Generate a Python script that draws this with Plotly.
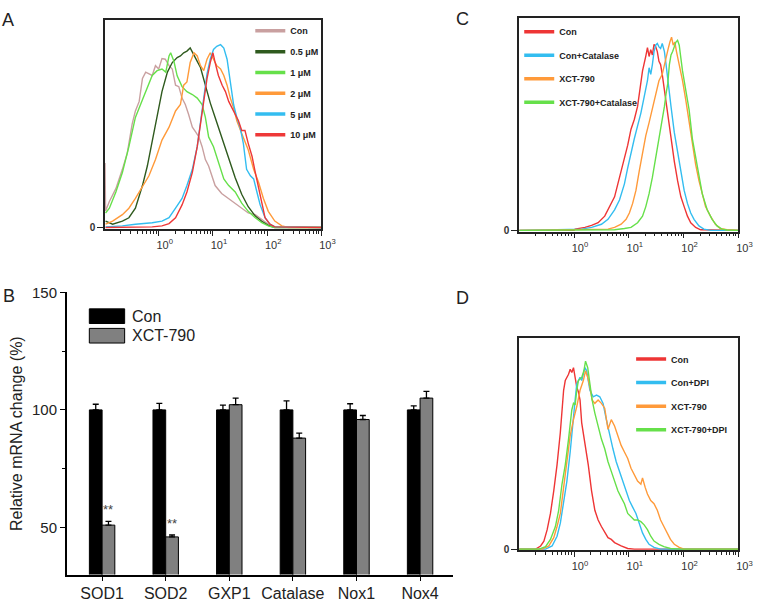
import numpy as np
import plotly.graph_objects as go

W, H = 758, 602

# ---------------- Panel A: DCF fluorescence histograms (log10 intensity, % of scale) -------------
a_con_logx = [-0.99, -0.98, -0.91, -0.79, -0.67, -0.58, -0.49, -0.43, -0.36, -0.30, -0.24, -0.18, -0.12, -0.06, 0.00,
              0.06, 0.12, 0.19, 0.25, 0.31, 0.37, 0.43, 0.49, 0.55, 0.62, 0.68, 0.74, 0.80, 0.86, 0.92, 0.98, 1.04,
              1.16, 1.29, 1.41, 1.53, 1.65, 1.78, 1.90, 2.02, 2.14, 3.0]
a_con_y = [31, 8, 12.5, 18.7, 28.0, 35.8, 49.8, 56.1, 60.7, 71.7, 74.8, 74.0, 73.2, 77.9, 76.3,
           81.3, 81.0, 77.9, 76.3, 68.5, 67.8, 62.3, 59.2, 54.5, 48.3, 46.0, 43.6, 38.9, 32.7, 29.6, 24.9, 20.2,
           16.4, 14.0, 11.7, 9.3, 7.0, 6.2, 3.9, 1.6, 0.3, 0]

a_05_logx = [-0.98, -0.85, -0.67, -0.55, -0.43, -0.30, -0.21, -0.12, -0.03, 0.06, 0.16, 0.25, 0.34, 0.40, 0.46,
             0.52, 0.58, 0.65, 0.71, 0.77, 0.83, 0.89, 0.95, 1.04, 1.14, 1.23, 1.32, 1.41, 1.53, 1.65, 1.78, 1.90,
             2.02, 2.14, 3.0]
a_05_y = [3.1, 1.6, 3.1, 4.7, 9.3, 20.2, 29.6, 42.1, 53.0, 65.4, 74.8, 79.4, 81.8, 82.6, 84.1,
          84.9, 86.4, 82.6, 80.0, 77.0, 71.0, 66.0, 60.0, 53.0, 45.0, 38.0, 31.0, 24.0, 16.0, 10.0, 5.5, 3.0,
          1.0, 0, 0]

a_1_logx = [-0.98, -0.91, -0.79, -0.67, -0.55, -0.43, -0.30, -0.21, -0.12, -0.03, 0.06, 0.13, 0.19, 0.22, 0.28,
            0.34, 0.43, 0.52, 0.62, 0.71, 0.80, 0.86, 0.92, 1.01, 1.10, 1.20, 1.29, 1.41, 1.53, 1.65, 1.78, 1.90,
            2.02, 2.14, 3.0]
a_1_y = [7.0, 9.3, 17.1, 26.5, 38.9, 53.0, 61.5, 67.0, 73.2, 75.5, 76.3, 74.8, 82.6, 84.1, 80.0,
         73.0, 67.8, 65.4, 64.0, 62.3, 59.2, 53.0, 43.6, 38.9, 31.2, 23.4, 20.2, 17.1, 11.7, 7.8, 4.7, 2.3,
         0.8, 0, 0]

a_2_logx = [-0.98, -0.85, -0.67, -0.55, -0.43, -0.30, -0.18, -0.06, 0.06, 0.19, 0.31, 0.40, 0.46, 0.52, 0.58,
            0.65, 0.71, 0.77, 0.83, 0.89, 0.95, 1.01, 1.07, 1.14, 1.20, 1.26, 1.32, 1.38, 1.44, 1.53, 1.65, 1.75,
            1.84, 1.93, 2.02, 2.14, 2.27, 2.39, 3.0]
a_2_y = [1.6, 3.1, 6.2, 9.3, 14.0, 19.5, 24.9, 32.7, 42.1, 48.3, 56.1, 59.2, 68.5, 70.1, 79.4,
         84.1, 82.6, 77.9, 75.5, 81.0, 84.1, 81.0, 77.9, 76.3, 73.2, 68.5, 62.3, 57.6, 51.4, 45.2, 37.4, 28.0,
         21.8, 14.0, 7.8, 3.1, 0.8, 0, 0]

a_5_logx = [-0.98, -0.67, -0.43, -0.12, 0.06, 0.19, 0.31, 0.43, 0.52, 0.62, 0.71, 0.77, 0.83, 0.89, 0.95,
            1.01, 1.07, 1.14, 1.20, 1.26, 1.32, 1.38, 1.44, 1.50, 1.56, 1.62, 1.69, 1.75, 1.81, 1.87, 1.96, 2.05,
            2.14, 3.0]
a_5_y = [0.3, 0.8, 1.6, 2.3, 3.1, 4.7, 9.3, 14.0, 20.2, 28.0, 38.9, 49.8, 62.3, 74.0, 81.0,
         85.7, 87.2, 88.0, 86.4, 81.0, 70.1, 59.2, 53.0, 48.3, 40.5, 28.0, 24.9, 23.4, 17.1, 10.9, 4.7, 1.6,
         0.3, 0]

a_10_logx = [-0.98, -0.12, 0.06, 0.19, 0.31, 0.43, 0.52, 0.62, 0.71, 0.77, 0.83, 0.89, 0.95, 1.00, 1.04,
             1.10, 1.17, 1.23, 1.29, 1.35, 1.41, 1.47, 1.53, 1.59, 1.65, 1.72, 1.78, 1.84, 1.90, 1.96, 2.05, 2.14,
             3.0]
a_10_y = [0, 0.3, 0.8, 1.9, 4.7, 10.9, 17.1, 26.5, 38.9, 49.8, 60.7, 71.7, 79.4, 84.1, 79.4,
          73.2, 68.5, 65.4, 60.7, 57.6, 54.5, 51.4, 46.7, 46.7, 40.5, 34.3, 26.5, 18.7, 10.9, 4.7, 1.6, 0.3,
          0]

a_names = ["Con", "0.5 μM", "1 μM", "2 μM", "5 μM", "10 μM"]

# ---------------- Panel C: catalase ----------------
c_con_logx = [-1.0, 0.0, 0.02, 0.20, 0.32, 0.44, 0.56, 0.65, 0.74, 0.80, 0.86, 0.92, 0.98, 1.04, 1.10, 1.16,
              1.22, 1.25, 1.31, 1.34, 1.37, 1.40, 1.43, 1.46, 1.49, 1.52, 1.55, 1.58, 1.61, 1.65, 1.68, 1.71,
              1.77, 1.83, 1.89, 1.95, 2.01, 2.07, 2.13, 2.22, 2.31, 3.0]
c_con_y = [0, 0, 0.6, 1.4, 2.4, 3.6, 6.7, 11.2, 15.8, 21.9, 27.9, 34.0, 40.1, 47.6, 52.2, 58.3,
           70.4, 75.0, 82.0, 86.0, 81.8, 85.0, 82.5, 87.5, 86.5, 84.1, 79.5, 78.0, 73.4, 65.9, 61.3, 55.2,
           43.1, 32.5, 23.4, 15.8, 11.2, 6.7, 3.6, 1.4, 0.3, 0]

c_cat_logx = [-1.0, 0.14, 0.32, 0.50, 0.62, 0.74, 0.83, 0.92, 0.98, 1.04, 1.10, 1.16, 1.22, 1.28, 1.34, 1.37,
              1.40, 1.43, 1.46, 1.49, 1.52, 1.55, 1.58, 1.61, 1.65, 1.68, 1.71, 1.77, 1.83, 1.89, 1.95, 2.01,
              2.07, 2.13, 2.19, 2.28, 2.37, 2.5, 3.0]
c_cat_y = [0, 0.6, 1.4, 2.9, 5.2, 9.7, 14.3, 21.9, 29.4, 37.0, 43.1, 49.2, 55.2, 62.8, 70.4, 76.5,
           73.4, 78.0, 84.1, 87.1, 87.9, 86.3, 85.6, 87.9, 84.1, 78.0, 70.4, 58.3, 46.1, 37.0, 26.4, 18.8,
           12.7, 8.2, 5.2, 2.1, 0.6, 0, 0]

c_xct_logx = [-1.0, 0.62, 0.74, 0.86, 0.95, 1.01, 1.07, 1.13, 1.19, 1.25, 1.31, 1.37, 1.43, 1.49, 1.55, 1.61,
              1.67, 1.72, 1.75, 1.78, 1.81, 1.84, 1.87, 1.92, 1.98, 2.04, 2.10, 2.16, 2.22, 2.28, 2.34, 2.40,
              2.49, 2.58, 2.67, 2.79, 3.0]
c_xct_y = [0, 0.6, 1.4, 2.9, 5.2, 8.2, 12.7, 18.8, 27.9, 37.0, 44.6, 50.7, 56.8, 64.3, 70.4, 73.4,
           81.0, 85.6, 88.6, 90.9, 87.1, 88.6, 84.1, 78.0, 70.4, 61.3, 50.7, 40.1, 31.0, 23.4, 17.3, 11.2,
           6.7, 2.9, 0.9, 0.3, 0]

c_xcat_logx = [-1.0, 0.74, 0.92, 1.04, 1.16, 1.25, 1.31, 1.37, 1.43, 1.49, 1.55, 1.61, 1.65, 1.68, 1.71, 1.74,
               1.77, 1.80, 1.83, 1.86, 1.89, 1.92, 1.95, 1.98, 2.04, 2.10, 2.16, 2.22, 2.28, 2.34, 2.43, 2.52,
               2.61, 2.70, 2.79, 3.0]
c_xcat_y = [0, 0.3, 0.9, 1.4, 3.6, 6.7, 11.2, 17.3, 24.9, 34.0, 41.6, 50.7, 58.3, 64.3, 68.9, 78.0,
            82.5, 84.1, 86.3, 88.6, 89.4, 87.1, 81.0, 75.0, 65.9, 56.8, 43.1, 34.0, 24.9, 17.3, 9.7, 5.2,
            2.1, 0.6, 0.2, 0]

c_names = ["Con", "Con+Catalase", "XCT-790", "XCT-790+Catalase"]

# ---------------- Panel D: DPI ----------------
d_con_logx = [-1.0, -0.70, -0.61, -0.55, -0.49, -0.43, -0.37, -0.31, -0.25, -0.22, -0.19, -0.16, -0.10, -0.07,
              -0.04, -0.01, 0.02, 0.05, 0.08, 0.11, 0.14, 0.17, 0.20, 0.23, 0.26, 0.29, 0.32, 0.38, 0.44, 0.50,
              0.56, 0.62, 0.68, 0.74, 0.86, 0.98, 1.10, 3.0]
d_con_y = [0, 0, 1.5, 3.8, 9.2, 16.9, 27.6, 39.9, 55.2, 66.0, 75.2, 79.8, 82.8, 85.1,
           83.6, 85.9, 81.3, 76.7, 74.4, 70.6, 59.8, 55.2, 50.6, 46.0, 39.9, 33.7, 27.6, 18.4, 13.8, 10.7,
           7.7, 5.4, 4.6, 3.1, 1.5, 0.3, 0, 0]

d_dpi_logx = [-1.0, -0.52, -0.40, -0.31, -0.25, -0.19, -0.13, -0.07, -0.04, -0.01, 0.02, 0.05, 0.11, 0.14,
              0.17, 0.20, 0.23, 0.26, 0.29, 0.35, 0.41, 0.47, 0.53, 0.59, 0.65, 0.71, 0.77, 0.83, 0.89, 0.95,
              1.01, 1.07, 1.13, 1.19, 1.25, 1.31, 1.37, 1.46, 1.58, 3.0]
d_dpi_y = [0, 0, 1.5, 6.1, 12.3, 21.5, 32.2, 46.0, 55.2, 62.9, 70.6, 78.2, 81.3, 79.8,
           82.8, 85.9, 84.4, 79.8, 75.2, 72.1, 72.9, 72.1, 69.0, 61.3, 53.7, 47.5, 41.4, 36.8, 32.2, 27.6,
           23.0, 19.9, 16.9, 12.3, 7.7, 4.6, 2.3, 0.8, 0, 0]

d_xct_logx = [-1.0, -0.58, -0.46, -0.37, -0.31, -0.25, -0.19, -0.13, -0.07, -0.01, 0.05, 0.11, 0.17, 0.21,
              0.25, 0.29, 0.33, 0.38, 0.44, 0.50, 0.56, 0.62, 0.68, 0.74, 0.80, 0.86, 0.92, 0.98, 1.04, 1.10,
              1.16, 1.22, 1.25, 1.30, 1.34, 1.40, 1.46, 1.52, 1.58, 1.64, 1.70, 1.76, 1.83, 1.92, 2.01, 3.0]
d_xct_y = [0, 0, 1.5, 5.4, 10.7, 16.9, 29.1, 41.4, 53.7, 61.3, 67.5, 75.2, 79.8, 84.4,
           81.3, 76.7, 70.6, 69.0, 70.6, 69.0, 66.7, 56.7, 61.3, 58.3, 53.7, 49.1, 46.0, 42.9, 38.3, 35.3,
           32.2, 30.7, 33.7, 29.1, 26.1, 23.0, 21.5, 18.4, 13.8, 10.7, 7.7, 4.6, 2.3, 0.8, 0, 0]

d_xdpi_logx = [-1.0, -0.64, -0.52, -0.43, -0.34, -0.28, -0.22, -0.16, -0.10, -0.04, -0.01, 0.02, 0.05, 0.08,
               0.14, 0.18, 0.21, 0.25, 0.29, 0.33, 0.38, 0.44, 0.50, 0.56, 0.62, 0.68, 0.74, 0.80, 0.86, 0.92,
               0.98, 1.04, 1.10, 1.16, 1.22, 1.28, 1.34, 1.40, 1.46, 1.55, 1.64, 1.76, 1.95, 3.0]
d_xdpi_y = [0, 0, 1.2, 4.6, 10.7, 18.4, 30.7, 39.9, 52.1, 66.0, 69.0, 68.3, 75.2, 79.8,
            81.3, 84.4, 89.0, 85.9, 78.2, 70.6, 64.4, 58.3, 52.1, 47.5, 41.4, 36.8, 32.2, 27.6, 24.5, 21.5,
            16.9, 15.3, 13.8, 13.8, 13.0, 11.5, 9.2, 6.1, 3.8, 2.3, 1.2, 0.3, 0, 0]

d_names = ["Con", "Con+DPI", "XCT-790", "XCT-790+DPI"]

# ---------------- Panel B: qPCR ----------------
genes = ["SOD1", "SOD2", "GXP1", "Catalase", "Nox1", "Nox4"]
con_vals = [100, 100, 100, 100, 100, 100]
con_err = [2.4, 2.8, 2.0, 3.8, 2.6, 1.7]
xct_vals = [51.0, 46.0, 102.2, 88.0, 95.9, 105.0]
xct_err = [1.6, 0.8, 2.8, 2.1, 1.7, 2.9]
signif = ["**", "**", "", "", "", ""]
b_names = ["Con", "XCT-790"]

hist_tickvals = [1, 10, 100, 1000]
hist_ticktext = ["10<sup>0</sup>", "10<sup>1</sup>", "10<sup>2</sup>", "10<sup>3</sup>"]
hist_minor = [m * 10.0 ** e for e in range(-1, 3) for m in range(2, 10)]

FONT = "Liberation Sans, Arial, sans-serif"

a_colors = ["#C9A0A0", "#2F5A1E", "#66E04A", "#FF9A3A", "#33BDF0", "#EE3838"]
cd_colors = ["#EE3535", "#33BDF0", "#FF9A3A", "#66E04A"]


def fx(px):
    return px / W


def fy(py):
    return 1 - py / H


def dom_x(a, b):
    return [fx(a), fx(b)]


def dom_y(top, bottom):
    return [fy(bottom), fy(top)]


fig = go.Figure()


def add_hist(series, names, colors, xa, ya, leg):
    for (lx, yv), nm, col in zip(series, names, colors):
        fig.add_trace(go.Scatter(x=np.power(10.0, lx), y=yv, mode="lines",
                                 line=dict(color=col, width=1.4), showlegend=False,
                                 xaxis=xa, yaxis=ya, hoverinfo="skip"))
    for nm, col in zip(names, colors):
        fig.add_trace(go.Scatter(x=[None], y=[None], mode="lines", name=nm,
                                 line=dict(color=col, width=3.5), legend=leg,
                                 legendgroup=leg + nm, xaxis=xa, yaxis=ya))


add_hist([(a_con_logx, a_con_y), (a_05_logx, a_05_y), (a_1_logx, a_1_y), (a_2_logx, a_2_y),
          (a_5_logx, a_5_y), (a_10_logx, a_10_y)], a_names, a_colors, "x", "y", "legend")
add_hist([(c_con_logx, c_con_y), (c_cat_logx, c_cat_y), (c_xct_logx, c_xct_y), (c_xcat_logx, c_xcat_y)],
         c_names, cd_colors, "x3", "y3", "legend2")
add_hist([(d_con_logx, d_con_y), (d_dpi_logx, d_dpi_y), (d_xct_logx, d_xct_y), (d_xdpi_logx, d_xdpi_y)],
         d_names, cd_colors, "x4", "y4", "legend3")

# bars
fig.add_trace(go.Bar(x=genes, y=con_vals, name=b_names[0],
                     marker=dict(color="black", line=dict(color="black", width=1)),
                     error_y=dict(type="data", array=con_err, arrayminus=[0] * len(con_err), symmetric=False,
                                  color="black", thickness=1.3, width=3),
                     xaxis="x2", yaxis="y2", showlegend=False))
fig.add_trace(go.Bar(x=genes, y=xct_vals, name=b_names[1],
                     marker=dict(color="#808080", line=dict(color="black", width=1)),
                     error_y=dict(type="data", array=xct_err, arrayminus=[0] * len(xct_err), symmetric=False,
                                  color="black", thickness=1.3, width=3),
                     xaxis="x2", yaxis="y2", showlegend=False))

hist_x = dict(type="log", showline=True, linecolor="#222", linewidth=1.6, mirror=True, ticks="outside",
              ticklen=5, tickwidth=1.2, tickcolor="#222", tickmode="array", tickvals=hist_tickvals,
              ticktext=hist_ticktext, tickfont=dict(family=FONT, size=11, color="#333"), showgrid=False,
              zeroline=False, ticklabelshift=6,
              minor=dict(tickmode="array", tickvals=hist_minor, ticks="outside", ticklen=3, tickwidth=1,
                         tickcolor="#222", showgrid=False))
hist_y = dict(range=[-0.6, 100], showline=True, linecolor="#222", linewidth=1.6, mirror=True, ticks="outside",
              ticklen=6, tickcolor="#222", tickmode="array", tickvals=[0], ticktext=["0"],
              tickfont=dict(family=FONT, size=10, color="#333", weight="bold"), showgrid=False, zeroline=False)

fig.update_layout(
    xaxis=dict(hist_x, domain=dom_x(107, 327.5), range=[-0.99, 3.0], anchor="y"),
    yaxis=dict(hist_y, domain=dom_y(11, 225), anchor="x"),
    xaxis3=dict(hist_x, domain=dom_x(529, 752.3), range=[-1.0, 3.0], anchor="y3"),
    yaxis3=dict(hist_y, domain=dom_y(9, 228), anchor="x3"),
    xaxis4=dict(hist_x, domain=dom_x(529, 752.3), range=[-1.0, 3.0], anchor="y4"),
    yaxis4=dict(hist_y, domain=dom_y(336.7, 554.3), anchor="x4"),
    xaxis2=dict(domain=dom_x(68, 462), anchor="y2", type="category", range=[-0.556, 5.525],
                showline=True, linecolor="black", linewidth=1.5, ticks="outside", ticklen=5,
                tickcolor="black", tickfont=dict(family=FONT, size=16, color="#222"), showgrid=False,
                ticklabelstandoff=-1),
    yaxis2=dict(domain=dom_y(290, 579), anchor="x2", range=[30, 150], tickvals=[50, 100, 150],
                showline=True, linecolor="black", linewidth=1.5, ticks="outside", ticklen=5,
                tickcolor="black", tickfont=dict(family=FONT, size=15, color="#222"), showgrid=False,
                zeroline=False,
                minor=dict(tickmode="array", tickvals=[75, 125], ticks="outside", ticklen=3, tickcolor="black")),
    barmode="group", bargap=0.6, bargroupgap=0,
    width=W, height=H, margin=dict(l=0, r=0, t=0, b=0),
    paper_bgcolor="white", plot_bgcolor="rgba(0,0,0,0)",
    font=dict(family=FONT),
)

leg_common = dict(xanchor="left", yanchor="top", bgcolor="rgba(0,0,0,0)", borderwidth=0,
                  font=dict(family=FONT, size=9, color="#222", weight="bold"), itemclick=False,
                  itemdoubleclick=False)
fig.update_layout(
    legend=dict(leg_common, x=fx(255), y=fy(7.5), tracegroupgap=1.8),
    legend2=dict(leg_common, x=fx(529), y=fy(8.5), tracegroupgap=4.5),
    legend3=dict(leg_common, x=fx(643), y=fy(343.5), tracegroupgap=4.6),
)

ann = []
for lab, (xx, yy) in zip(["A", "B", "C", "D"], [(8.5, 11), (9, 294), (471, 10.5), (471, 295.5)]):
    ann.append(dict(text=lab, x=fx(xx), y=fy(yy), xref="paper", yref="paper", showarrow=False,
                    xanchor="center", yanchor="middle", font=dict(family=FONT, size=18, color="#222")))
ann.append(dict(text="Relative mRNA change (%)", x=fx(17.5), y=fy(435), xref="paper", yref="paper",
                showarrow=False, textangle=-90, xanchor="center", yanchor="middle",
                font=dict(family=FONT, size=16, color="#222")))
for i, s in enumerate(signif):
    if s:
        ann.append(dict(text=s, x=i + 0.1, y=xct_vals[i] + xct_err[i], xref="x2", yref="y2", showarrow=False,
                        xanchor="center", yanchor="bottom", yshift=2,
                        font=dict(family=FONT, size=13, color="#444")))
# legend of panel B
for nm, top in zip(b_names, [307, 327]):
    ann.append(dict(text=nm, x=fx(132), y=fy(top + 7.5), xref="paper", yref="paper", showarrow=False,
                    xanchor="left", yanchor="middle", font=dict(family=FONT, size=16, color="#222")))
fig.update_layout(annotations=ann)

shapes = []
for col, top in zip(["black", "#808080"], [307, 327]):
    shapes.append(dict(type="rect", xref="paper", yref="paper", x0=fx(91), x1=fx(127), y0=fy(top + 15),
                       y1=fy(top), fillcolor=col, line=dict(color="black", width=1)))
fig.update_layout(shapes=shapes)

fig.write_html("out.html", config={"displayModeBar": False},
               post_script="document.body.style.margin='0px';document.body.style.overflow='hidden';")
